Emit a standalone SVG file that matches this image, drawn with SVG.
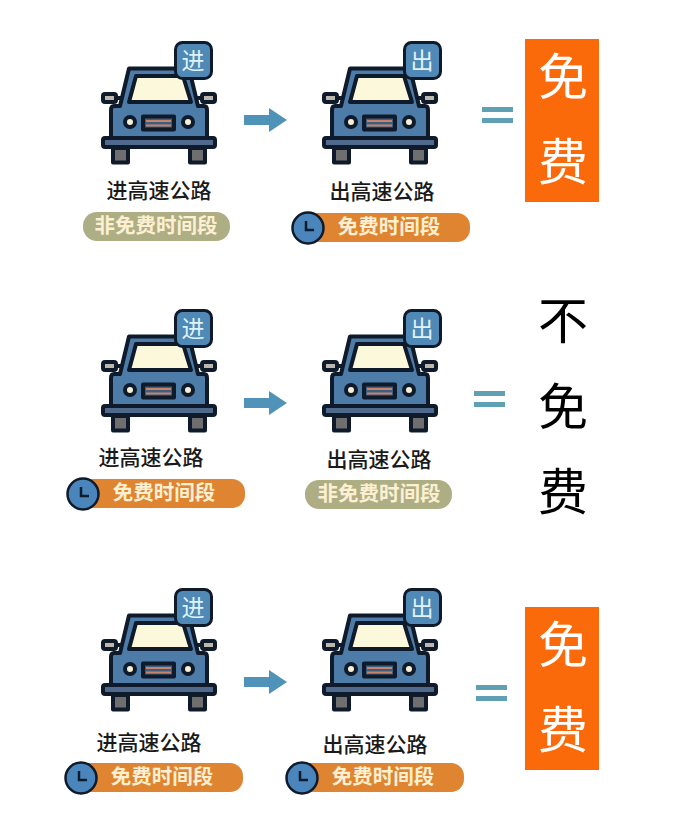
<svg xmlns="http://www.w3.org/2000/svg" width="681" height="831" viewBox="0 0 681 831">
<style>
text{font-family:"Noto Sans CJK SC","Noto Sans CJK JP",sans-serif;text-anchor:middle}
.lbl{font-size:21px;font-weight:500;fill:#1a1a1a}
.pt{font-size:20.500px;font-weight:700;fill:#fdf0d2}
.bt{font-size:23px;fill:#dff2f8}
.big{font-size:50px;fill:#fff}
.blk{font-size:50px;fill:#000}
.o{fill:#df8430}
.g{fill:#aeae85}
.eq{fill:#5fa0b4}
.arrow{fill:#4f93b8}
.k{stroke:#0f1a2b;stroke-width:4;stroke-linejoin:round}
</style>
<defs>
<g id="car">
<rect class="k" x="113" y="148" width="15" height="14.500" fill="#6f6f6f"/>
<rect class="k" x="190" y="148" width="15" height="14.500" fill="#6f6f6f"/>
<rect class="k" x="103" y="94" width="13" height="8" rx="2" fill="#bdb8ad"/>
<rect class="k" x="202" y="94" width="13" height="8" rx="2" fill="#bdb8ad"/>
<path d="M116 98h8M194 98h8" stroke="#0f1a2b" stroke-width="4"/>
<path class="k" d="M129 68.500H189L198 106H204Q207 106 207 110V138H111V110Q111 106 114 106H120Z" fill="#4d7ca8"/>
<path class="k" d="M136 76H183L191 102H129Z" fill="#fbf8dc"/>
<circle class="k" cx="130" cy="122" r="5" fill="#f7efd6"/>
<circle class="k" cx="188" cy="122" r="5" fill="#f7efd6"/>
<rect class="k" x="143" y="116.500" width="31" height="13" fill="#3f5f80"/>
<path d="M146 121H171M146 125.500H171" stroke="#c8836a" stroke-width="2"/>
<rect class="k" x="103" y="138" width="112" height="9" rx="2" fill="#4f6a8c"/>
</g>
<g id="clock">
<circle r="15.500" fill="#4a86bb" stroke="#0f1a2b" stroke-width="2.500"/>
<path d="M-2-7V2H6" fill="none" stroke="#0f1a2b" stroke-width="2.500"/>
</g>
<g id="badge">
<rect x="1.500" y="1.500" width="36" height="36" rx="7" fill="#5089b5" stroke="#0f1a2b" stroke-width="3"/>
</g>
</defs>

<g id="connectors">
<path class="arrow" d="M244 115H269V108L287 120L269 132V125H244Z"/>
<path class="arrow" d="M244 398H269V391L287 403L269 415V408H244Z"/>
<path class="arrow" d="M244 677H269V670L287 682L269 694V687H244Z"/>
</g>

<g id="car-1-in">
<use href="#car"/>
<use href="#badge" x="174" y="41"/><text class="bt" x="193" y="69">进</text>
<text class="lbl" x="159" y="198">进高速公路</text>
<rect class="g" x="83" y="212" width="147" height="29" rx="14"/>
<text class="pt" x="156" y="233">非免费时间段</text>
</g>
<g id="car-1-out">
<use href="#car" x="221"/>
<use href="#badge" x="403" y="41"/><text class="bt" x="422" y="69">出</text>
<text class="lbl" x="382" y="199">出高速公路</text>
<rect class="o" x="305" y="213" width="165" height="29" rx="13"/>
<use href="#clock" x="308" y="228"/>
<text class="pt" x="389" y="234">免费时间段</text>
</g>
<g id="result-1">
<rect x="525" y="39" width="74" height="163" fill="#fb6a0a"/>
<text class="big" x="563" y="95">免</text>
<text class="big" x="563" y="180">费</text>
<path class="eq" d="M482 107h31v5h-31zM482 118h31v5h-31z"/>
</g>

<g id="car-2-in">
<use href="#car" y="268"/>
<use href="#badge" x="174" y="309"/><text class="bt" x="193" y="337">进</text>
<text class="lbl" x="151" y="465">进高速公路</text>
<rect class="o" x="80" y="479" width="165" height="29" rx="13"/>
<use href="#clock" x="83" y="494"/>
<text class="pt" x="164" y="500">免费时间段</text>
</g>
<g id="car-2-out">
<use href="#car" x="221" y="268"/>
<use href="#badge" x="403" y="309"/><text class="bt" x="422" y="337">出</text>
<text class="lbl" x="379" y="467">出高速公路</text>
<rect class="g" x="305" y="480" width="147" height="29" rx="14"/>
<text class="pt" x="379" y="501">非免费时间段</text>
</g>
<g id="result-2">
<text class="blk" x="563" y="339">不</text>
<text class="blk" x="563" y="425">免</text>
<text class="blk" x="563" y="510">费</text>
<path class="eq" d="M474 391h31v5h-31zM474 402h31v5h-31z"/>
</g>

<g id="car-3-in">
<use href="#car" y="547"/>
<use href="#badge" x="174" y="588"/><text class="bt" x="193" y="616">进</text>
<text class="lbl" x="149" y="750">进高速公路</text>
<rect class="o" x="78" y="763" width="165" height="29" rx="13"/>
<use href="#clock" x="81" y="778"/>
<text class="pt" x="162" y="784">免费时间段</text>
</g>
<g id="car-3-out">
<use href="#car" x="221" y="547"/>
<use href="#badge" x="403" y="588"/><text class="bt" x="422" y="616">出</text>
<text class="lbl" x="375" y="752">出高速公路</text>
<rect class="o" x="299" y="763" width="165" height="29" rx="13"/>
<use href="#clock" x="302" y="778"/>
<text class="pt" x="383" y="784">免费时间段</text>
</g>
<g id="result-3">
<rect x="525" y="607" width="74" height="163" fill="#fb6a0a"/>
<text class="big" x="563" y="663">免</text>
<text class="big" x="563" y="748">费</text>
<path class="eq" d="M476 685h31v5h-31zM476 696h31v5h-31z"/>
</g>
</svg>
